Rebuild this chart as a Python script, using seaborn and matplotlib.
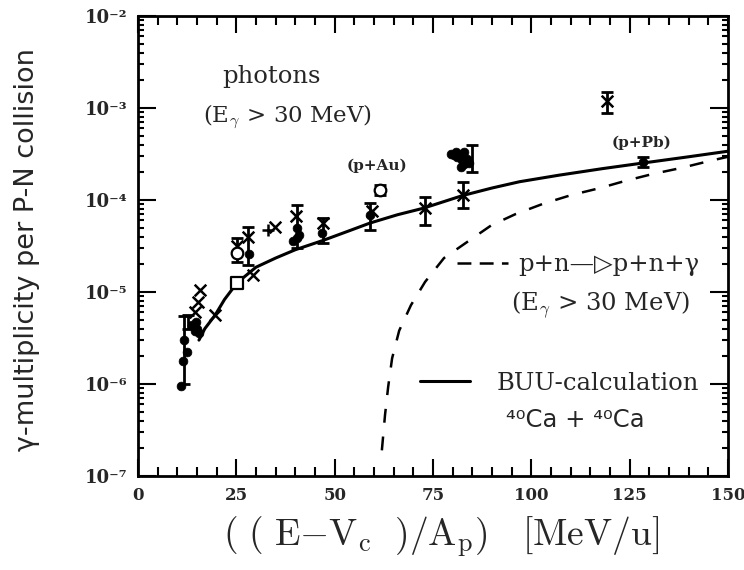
import numpy as np
import pandas as pd
import matplotlib
matplotlib.use("Agg")
import matplotlib.pyplot as plt
import seaborn as sns
from matplotlib.ticker import MultipleLocator, LogLocator, FuncFormatter, NullFormatter
from matplotlib.lines import Line2D

sns.set_theme(style="ticks")
plt.rcParams["font.family"] = ["DejaVu Serif", "DejaVu Sans"]
plt.rcParams["mathtext.fontset"] = "cm"
plt.rcParams["lines.scale_dashes"] = False

# BUU calculation, 40Ca + 40Ca
buu_energy = [15.5, 17, 19.6, 22, 25.2, 30, 35, 40, 47, 54, 59, 66, 72.5,
              82.6, 90, 97, 107, 118, 128, 140, 150]
buu_mult = [3.0e-6, 4.0e-6, 5.6e-6, 8.3e-6, 1.26e-5, 1.86e-5, 2.34e-5, 2.88e-5,
            3.63e-5, 4.68e-5, 5.62e-5, 6.92e-5, 8.13e-5, 1.12e-4, 1.35e-4,
            1.58e-4, 1.86e-4, 2.19e-4, 2.51e-4, 2.95e-4, 3.39e-4]

# elementary p+n -> p+n+gamma (E_gamma > 30 MeV)
pn_energy = [62.0, 62.8, 63.6, 64.6, 66.4, 69.4, 73.0, 77.8, 83.7, 89.8, 95.9,
             103, 110.1, 117.5, 123.8, 130.9, 138.1, 145.2, 150]
pn_mult = [1.9e-7, 4.6e-7, 9.3e-7, 1.9e-6, 3.8e-6, 7.2e-6, 1.29e-5, 2.34e-5,
           3.5e-5, 5.3e-5, 7.0e-5, 9.1e-5, 1.13e-4, 1.35e-4, 1.61e-4, 1.92e-4,
           2.23e-4, 2.65e-4, 2.95e-4]

# measured points with error bars
err_energy = [11.8, 12.8, 25.2, 28.0, 40.4, 47.0, 59.0, 61.5, 73.0, 82.6, 84.9, 119.2, 128.3]
err_mult = [2.4e-6, 4.6e-6, 2.9e-5, 3.3e-5, 5.8e-5, 4.9e-5, 7.2e-5, 1.29e-4, 8.1e-5,
            1.12e-4, 3.0e-4, 1.2e-3, 2.6e-4]
err_low = [1.0e-6, 4.0e-6, 2.1e-5, 1.95e-5, 3.0e-5, 3.4e-5, 4.7e-5, 1.12e-4, 5.4e-5,
           8.1e-5, 2.0e-4, 8.9e-4, 2.3e-4]
err_high = [5.5e-6, 5.6e-6, 3.9e-5, 5.1e-5, 8.9e-5, 6.4e-5, 9.3e-5, 1.45e-4, 1.07e-4,
            1.58e-4, 4.0e-4, 1.5e-3, 2.95e-4]

cross_energy = [14.5, 15.3, 15.8, 19.6, 29.2, 34.8, 119.2, 25.2, 40.2, 28.0, 59.5,
                73.0, 82.6, 47.0]
cross_mult = [6.0e-6, 7.8e-6, 1.05e-5, 5.6e-6, 1.53e-5, 5.1e-5, 1.2e-3, 3.2e-5, 6.7e-5,
              4.0e-5, 7.5e-5, 8.1e-5, 1.12e-4, 5.6e-5]

plus_energy = [33.1]
plus_mult = [4.7e-5]

dot_energy = [11.0, 11.5, 11.8, 12.4, 13.8, 14.4, 15.0, 15.5, 14.8, 28.3, 39.5, 40.5,
              41.0, 40.4, 46.8, 59.0, 79.5, 80.3, 81.0, 81.8, 82.3, 83.0, 82.8, 83.6,
              84.2, 80.8, 82.0, 128.3]
dot_mult = [9.5e-7, 1.8e-6, 3.0e-6, 2.2e-6, 4.4e-6, 3.8e-6, 4.0e-6, 3.6e-6, 4.7e-6,
            2.6e-5, 3.6e-5, 3.9e-5, 4.2e-5, 5.0e-5, 4.4e-5, 6.8e-5, 3.2e-4, 3.05e-4,
            2.9e-4, 3.1e-4, 2.7e-4, 2.45e-4, 3.3e-4, 2.8e-4, 2.5e-4, 3.3e-4, 2.3e-4,
            2.6e-4]

square_energy = [25.2]
square_mult = [1.26e-5]

ring_energy = [25.2, 61.5]
ring_mult = [2.65e-5, 1.29e-4]

SUPERSCRIPT = str.maketrans("-0123456789", "⁻⁰¹²³⁴⁵⁶⁷⁸⁹")

fig = plt.figure(figsize=(7.44, 5.70), dpi=100)
ax = fig.add_axes([138 / 744, 1 - 476 / 570, 590 / 744, 460 / 570])
ax.set_yscale("log")

buu = pd.DataFrame({"energy": buu_energy, "mult": buu_mult})
pn = pd.DataFrame({"energy": pn_energy, "mult": pn_mult})

sns.lineplot(data=buu, x="energy", y="mult", sort=False, estimator=None,
             color="black", lw=2.2, ax=ax)
sns.lineplot(data=pn, x="energy", y="mult", sort=False, estimator=None,
             color="black", lw=1.8, ax=ax)
ax.lines[1].set_dashes((10, 10))

yerr = np.array([np.array(err_mult) - np.array(err_low),
                 np.array(err_high) - np.array(err_mult)])
ax.errorbar(err_energy, err_mult, yerr=yerr, fmt="none", ecolor="black",
            elinewidth=2.0, capsize=4.5, capthick=2.0, zorder=3)

sns.scatterplot(x=dot_energy, y=dot_mult, marker="o", s=40, color="black",
                edgecolor="black", ax=ax, zorder=4)
sns.scatterplot(x=cross_energy, y=cross_mult, marker="x", s=70, color="black",
                linewidth=1.8, ax=ax, zorder=4)
sns.scatterplot(x=plus_energy, y=plus_mult, marker="+", s=70, color="black",
                linewidth=1.8, ax=ax, zorder=4)
sns.scatterplot(x=square_energy, y=square_mult, marker="s", s=70,
                color="white", edgecolor="black", linewidth=1.6, ax=ax, zorder=4)
sns.scatterplot(x=ring_energy, y=ring_mult, marker="o", s=70, color="white",
                edgecolor="black", linewidth=1.6, ax=ax, zorder=4)

ax.set_xlim(0, 150)
ax.set_ylim(1e-7, 1e-2)
ax.xaxis.set_major_locator(MultipleLocator(25))
ax.xaxis.set_minor_locator(MultipleLocator(5))
ax.yaxis.set_major_locator(LogLocator(base=10, numticks=10))
ax.yaxis.set_minor_locator(LogLocator(base=10, subs=np.arange(2, 10), numticks=20))
ax.yaxis.set_minor_formatter(NullFormatter())
ax.yaxis.set_major_formatter(FuncFormatter(
    lambda v, p: "10" + str(int(round(np.log10(v)))).translate(SUPERSCRIPT)))
ax.xaxis.set_major_formatter(FuncFormatter(lambda v, p: "%d" % v))

for s in ax.spines.values():
    s.set_linewidth(2.0)
    s.set_color("black")
ax.tick_params(which="both", direction="in", top=True, right=True, color="black",
               width=1.5)
ax.tick_params(axis="x", which="major", length=12, pad=8, labelsize=12)
ax.tick_params(axis="x", which="minor", length=6.5)
ax.tick_params(axis="y", which="major", length=13, pad=8, labelsize=13)
ax.tick_params(axis="y", which="minor", length=4.5)
for lbl in ax.get_xticklabels() + ax.get_yticklabels():
    lbl.set_fontweight("bold")

ax.set_xlabel(r"$(\ (\ \mathrm{E{-}V_c}\ \ )/\mathrm{A_p})\ \ \ [\mathrm{MeV/u}]$",
              fontsize=27, va="center")
ax.xaxis.set_label_coords((441 - 138) / 590, (476 - 537) / 460)
ax.set_ylabel("γ-multiplicity per P-N collision", family="DejaVu Sans",
              fontsize=19.5, va="center")
ax.yaxis.set_label_coords((27 - 138) / 590, (476 - 250) / 460)

def axfrac(px, py):
    return ((px - 138) / 590, (476 - py) / 460)

fs = 17.5
ax.text(*axfrac(222, 76), "photons", transform=ax.transAxes, fontsize=17.5,
        va="center", ha="left")
ax.text(*axfrac(372, 117), r"(E$_\gamma$ > 30 MeV)", transform=ax.transAxes,
        fontsize=16.5, va="center", ha="right")
ax.text(*axfrac(377, 166), "(p+Au)", transform=ax.transAxes, fontsize=11,
        fontweight="bold", va="center", ha="center")
ax.text(*axfrac(642, 143), "(p+Pb)", transform=ax.transAxes, fontsize=11,
        fontweight="bold", va="center", ha="center")
ax.text(*axfrac(690, 305), r"(E$_\gamma$ > 30 MeV)", transform=ax.transAxes,
        fontsize=fs, va="center", ha="right")
ax.text(*axfrac(575, 420), "⁴⁰Ca + ⁴⁰Ca", transform=ax.transAxes,
        family="DejaVu Sans", fontsize=fs, va="center", ha="center")

px_per_fs = fs * 100 / 72
leg1 = ax.legend(handles=[Line2D([], [], color="black", lw=1.8, dashes=(10, 6))],
                 labels=["p+n—▷p+n+γ"], loc="center left",
                 bbox_to_anchor=(457 / 744, 1 - 265 / 570),
                 bbox_transform=fig.transFigure, frameon=False, fontsize=fs,
                 handlelength=51 / px_per_fs, handletextpad=10 / px_per_fs,
                 borderpad=0, borderaxespad=0)
ax.add_artist(leg1)
ax.legend(handles=[Line2D([], [], color="black", lw=2.2)],
          labels=["BUU-calculation"], loc="center left",
          bbox_to_anchor=(420 / 744, 1 - 383 / 570),
          bbox_transform=fig.transFigure, frameon=False, fontsize=fs,
          handlelength=50 / px_per_fs, handletextpad=27 / px_per_fs,
          borderpad=0, borderaxespad=0)

fig.savefig("out.png", dpi=100)
